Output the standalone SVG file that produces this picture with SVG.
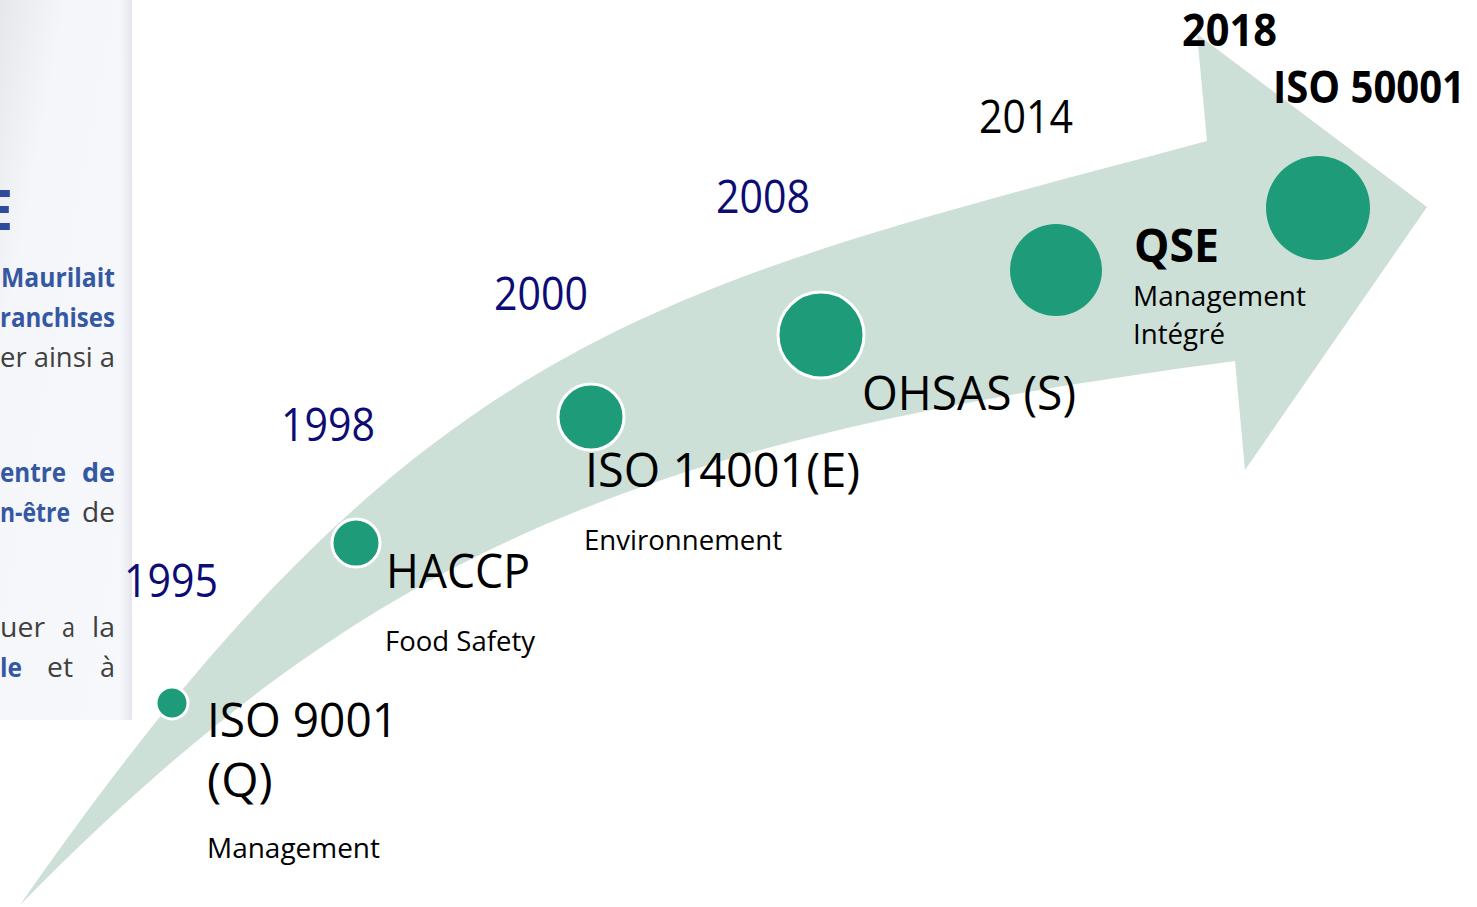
<svg xmlns="http://www.w3.org/2000/svg" width="1477" height="907" viewBox="0 0 1477 907">
<style>
.t{font-family:"Open Sans","Liberation Sans",sans-serif;fill:#000}
.y{font-family:"Open Sans","Liberation Sans",sans-serif;fill:#0c0c74;font-size:45px}
.b{font-weight:bold}
.big{font-size:48px}
.sm{font-size:27px}
.p{font-family:"Open Sans","Liberation Sans",sans-serif;font-size:27px}
.pb{fill:#3558a3;font-weight:bold}
.pg{fill:#404040}
.dot{fill:#1e9b78}
.ring{stroke:#fff;stroke-width:3}
</style>
<defs>
<linearGradient id="pan" x1="0" y1="0" x2="1" y2="1">
<stop offset="0" stop-color="#e6e7eb"/>
<stop offset="0.25" stop-color="#f5f6fa"/>
<stop offset="1" stop-color="#f7f8fc"/>
</linearGradient>
<linearGradient id="sh" x1="0" y1="0" x2="1" y2="0">
<stop offset="0" stop-color="#e8e9ef" stop-opacity="0"/>
<stop offset="1" stop-color="#e3e5ec"/>
</linearGradient>
</defs>
<rect width="1477" height="907" fill="#fff"/>
<g id="arrow">
<path d="M20,905 C420,329 658,288 1207,141 L1197,34 L1427,207 L1245,470 L1235,361 C637,440 370,549 20,905 Z" fill="#cde0d7"/>
</g>
<g id="panel">
<rect x="0" y="0" width="132" height="720" fill="url(#pan)"/>
<rect x="120" y="0" width="12" height="720" fill="url(#sh)"/>
<text x="13" y="230" style="font-family:'Open Sans','Liberation Sans',sans-serif;font-size:56px;font-weight:bold;fill:#2d4c9b;text-anchor:end">E</text>
<text x="1" y="287" class="p pb" textLength="114" lengthAdjust="spacingAndGlyphs">Maurilait</text>
<text x="0" y="327" class="p pb" textLength="115" lengthAdjust="spacingAndGlyphs">ranchises</text>
<text x="0" y="367" class="p pg" textLength="115" lengthAdjust="spacingAndGlyphs">er ainsi a</text>
<text x="0" y="482" class="p pb" textLength="66" lengthAdjust="spacingAndGlyphs">entre</text>
<text x="82" y="482" class="p pb" textLength="33" lengthAdjust="spacingAndGlyphs">de</text>
<text x="0" y="522" class="p pb" textLength="70" lengthAdjust="spacingAndGlyphs">n-être</text>
<text x="82" y="522" class="p pg" textLength="33" lengthAdjust="spacingAndGlyphs">de</text>
<text x="0" y="637" class="p pg" textLength="45" lengthAdjust="spacingAndGlyphs">uer</text>
<text x="62" y="637" class="p pg" textLength="13" lengthAdjust="spacingAndGlyphs">a</text>
<text x="92" y="637" class="p pg" textLength="23" lengthAdjust="spacingAndGlyphs">la</text>
<text x="0" y="677" class="p pb" textLength="22" lengthAdjust="spacingAndGlyphs">le</text>
<text x="47" y="677" class="p pg" textLength="26" lengthAdjust="spacingAndGlyphs">et</text>
<text x="100" y="677" class="p pg" textLength="15" lengthAdjust="spacingAndGlyphs">à</text>
</g>
<g id="connectors"></g>
<g id="n1995">
<circle class="dot ring" cx="172" cy="703" r="16"/>
<text class="y" x="124" y="597" textLength="94" lengthAdjust="spacingAndGlyphs">1995</text>
<text class="t big" x="207" y="737" textLength="191" lengthAdjust="spacingAndGlyphs">ISO 9001</text>
<text class="t big" x="207" y="797">(Q)</text>
<text class="t sm" x="207" y="858" textLength="173" lengthAdjust="spacingAndGlyphs">Management</text>
</g>
<g id="n1998">
<circle class="dot ring" cx="356" cy="543" r="24"/>
<text class="y" x="281" y="441" textLength="94" lengthAdjust="spacingAndGlyphs">1998</text>
<text class="t big" x="386" y="588" textLength="144" lengthAdjust="spacingAndGlyphs">HACCP</text>
<text class="t sm" x="385" y="651" textLength="150" lengthAdjust="spacingAndGlyphs">Food Safety</text>
</g>
<g id="n2000">
<circle class="dot ring" cx="591" cy="417" r="33"/>
<text class="y" x="494" y="310" textLength="94" lengthAdjust="spacingAndGlyphs">2000</text>
<text class="t big" x="585" y="487" textLength="275" lengthAdjust="spacingAndGlyphs">ISO 14001(E)</text>
<text class="t sm" x="584" y="550" textLength="198" lengthAdjust="spacingAndGlyphs">Environnement</text>
</g>
<g id="n2008">
<circle class="dot ring" cx="821" cy="335" r="43"/>
<text class="y" x="716" y="213" textLength="94" lengthAdjust="spacingAndGlyphs">2008</text>
<text class="t big" x="862" y="410" textLength="214" lengthAdjust="spacingAndGlyphs">OHSAS (S)</text>
</g>
<g id="n2014">
<circle class="dot" cx="1056" cy="270" r="46"/>
<text class="t" style="font-size:45px" x="979" y="133" textLength="94" lengthAdjust="spacingAndGlyphs">2014</text>
<text class="t b" style="font-size:46px" x="1134" y="262" textLength="85" lengthAdjust="spacingAndGlyphs">QSE</text>
<text class="t sm" x="1133" y="306" textLength="173" lengthAdjust="spacingAndGlyphs">Management</text>
<text class="t sm" x="1133" y="344" textLength="92" lengthAdjust="spacingAndGlyphs">Intégré</text>
</g>
<g id="n2018">
<circle class="dot" cx="1318" cy="208" r="52"/>
<text class="t b" style="font-size:45px" x="1182" y="46" textLength="95" lengthAdjust="spacingAndGlyphs">2018</text>
<text class="t b" style="font-size:44px" x="1273" y="103" textLength="192" lengthAdjust="spacingAndGlyphs">ISO 50001</text>
</g>
</svg>
